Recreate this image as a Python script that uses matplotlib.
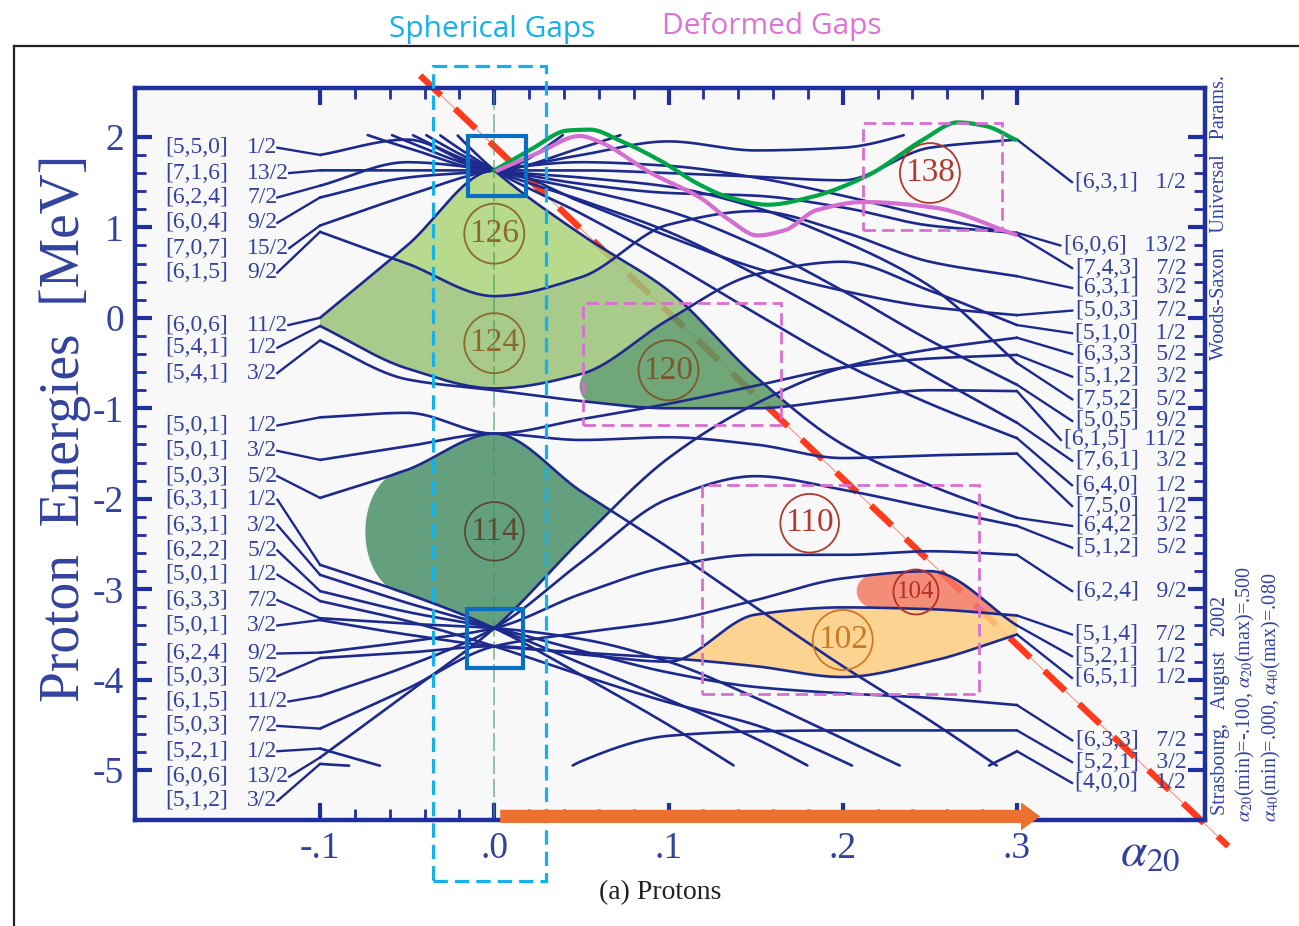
import numpy as np
import matplotlib.pyplot as plt
from matplotlib.patches import Rectangle, Polygon, FancyArrow
from matplotlib.lines import Line2D

plt.rcParams['mathtext.fontset'] = 'stix'
SERIF = 'Liberation Serif'
NAVY = '#1d2a8c'
LABEL = '#33429e'

# ---- single-particle levels: energy (MeV) at each alpha_20 ----
alpha_pts = [-0.10, -0.05, 0.00, 0.05, 0.10, 0.15, 0.20, 0.25, 0.30]

lvl_t1 = [1.80, 1.97, 1.63, 2.15, 2.70, 3.20, 3.50, 3.80, 4.00]
lvl_t2 = [1.63, 1.63, 1.63, 1.63, 1.60, 1.56, 1.52, 1.88, 1.97]
lvl_t3 = [1.46, 1.72, 1.63, 1.48, 1.38, 1.35, 1.22, 1.02, 0.94]
lvl_t4 = [1.33, 1.55, 1.63, 1.80, 1.95, 1.85, 1.88, 2.10, 2.40]
lvl_t5 = [1.02, 1.35, 1.63, 1.72, 1.68, 1.55, 1.35, 1.12, 0.92]
lvl_t6 = [0.95, 0.60, 0.24, 0.45, 1.03, 1.18, 0.95, 0.62, 0.46]
lvl_t7 = [0.00, 0.80, 1.63, 1.28, 0.90, 0.55, 0.30, 0.12, 0.03]
lvl_t8 = [3.30, 2.30, 1.63, 1.15, 0.62, 0.05, -0.50, -0.95, -1.33]
lvl_t9 = [2.90, 2.15, 1.63, 1.30, 0.95, 0.48, -0.05, -0.62, -1.16]
lvl_t10 = [2.60, 2.05, 1.63, 1.42, 1.18, 0.80, 0.30, -0.25, -0.74]
lvl_t11 = [2.40, 1.95, 1.63, 1.55, 1.45, 1.22, 0.85, 0.35, -0.50]
lvl_t12 = [2.20, 1.88, 1.63, 1.88, 2.20, 2.50, 2.80, 3.00, 3.20]
lvl_a2 = [3.60, 2.60, 1.63, 0.92, 0.30, -0.65, -1.40, -1.85, -2.21]
lvl_c1 = [-0.09, -0.56, -0.78, -0.62, -0.02, 0.48, 0.62, 0.30, -0.08]
lvl_c2 = [-0.25, -0.68, -0.80, -0.92, -1.00, -1.00, -0.90, -0.80, -0.81]
lvl_d1 = [-1.10, -1.05, -1.28, -1.12, -0.95, -0.75, -0.55, -0.45, -0.41]
lvl_d2 = [-1.57, -1.42, -1.28, -1.35, -1.32, -1.40, -1.55, -1.52, -1.50]
lvl_d3 = [-1.99, -1.68, -1.28, -1.92, -2.54, -3.20, -3.85, -4.45, -5.10]
lvl_i1 = [-2.73, -3.05, -3.43, -3.95, -4.50, -5.10, -5.70, -6.20, -6.60]
lvl_i2 = [-2.84, -3.15, -3.43, -3.82, -4.22, -4.65, -5.15, -5.60, -6.00]
lvl_i3 = [-3.02, -3.25, -3.43, -3.68, -3.92, -4.08, -4.15, -4.20, -4.28]
lvl_i4 = [-3.32, -3.38, -3.43, -3.55, -3.80, -4.20, -4.65, -5.10, -5.50]
lvl_i5 = [-3.70, -3.58, -3.43, -3.05, -2.75, -2.62, -2.62, -2.58, -2.62]
lvl_i6 = [-4.18, -3.85, -3.43, -2.70, -2.00, -1.75, -1.90, -2.10, -2.30]
lvl_i7 = [-4.86, -4.15, -3.43, -2.45, -1.55, -0.95, -0.55, -0.35, -0.22]
lvl_f1 = [-3.13, -3.35, -3.63, -3.95, -4.25, -4.50, -4.90, -5.40, -5.90]
lvl_f2 = [-3.34, -3.50, -3.63, -3.70, -3.76, -3.85, -3.97, -3.80, -3.50]
lvl_f3 = [-3.76, -3.70, -3.63, -3.72, -3.80, -3.28, -3.20, -3.22, -3.29]
lvl_f4 = [-4.54, -4.10, -3.63, -3.48, -3.35, -3.12, -2.88, -2.80, -3.40]
lvl_h1 = [-4.76, -5.05, -5.50, -6.00, -6.50, -7.00, -7.00, -7.00, -7.00]
lvl_h2 = [-4.93, -5.00, -5.40, -6.00, -6.50, -7.00, -7.00, -7.00, -7.00]
lvl_h3 = [-6.50, -6.00, -5.60, -4.90, -4.62, -4.57, -4.56, -4.56, -4.56]
lvl_h4 = [-7.00, -7.00, -7.00, -7.00, -7.00, -6.50, -6.00, -5.30, -4.79]

E_TOP, E_BOT = 2.02, -4.95

# asymptotic labels at the oblate (left) and prolate (right) ends
left_nilsson = ['[5,5,0]', '[7,1,6]', '[6,2,4]', '[6,0,4]', '[7,0,7]', '[6,1,5]',
                '[6,0,6]', '[5,4,1]', '[5,4,1]', '[5,0,1]', '[5,0,1]', '[5,0,3]',
                '[6,3,1]', '[6,3,1]', '[6,2,2]', '[5,0,1]', '[6,3,3]', '[5,0,1]',
                '[6,2,4]', '[5,0,3]', '[6,1,5]', '[5,0,3]', '[5,2,1]', '[6,0,6]', '[5,1,2]']
left_omega = ['1/2', '13/2', '7/2', '9/2', '15/2', '9/2', '11/2', '1/2', '3/2', '1/2',
              '3/2', '5/2', '1/2', '3/2', '5/2', '1/2', '7/2', '3/2', '9/2', '5/2',
              '11/2', '7/2', '1/2', '13/2', '3/2']
left_label_E = [1.88, 1.60, 1.33, 1.05, 0.77, 0.50, -0.08, -0.33, -0.61, -1.19, -1.47,
                -1.75, -2.01, -2.29, -2.57, -2.84, -3.12, -3.40, -3.71, -3.96, -4.24,
                -4.51, -4.79, -5.07, -5.34]

right_nilsson = ['[6,3,1]', '[6,0,6]', '[7,4,3]', '[6,3,1]', '[5,0,3]', '[5,1,0]',
                 '[6,3,3]', '[5,1,2]', '[7,5,2]', '[5,0,5]', '[6,1,5]', '[7,6,1]',
                 '[6,4,0]', '[7,5,0]', '[6,4,2]', '[5,1,2]', '[6,2,4]', '[5,1,4]',
                 '[5,2,1]', '[6,5,1]', '[6,3,3]', '[5,2,1]', '[4,0,0]']
right_omega = ['1/2', '13/2', '7/2', '3/2', '7/2', '1/2', '5/2', '3/2', '5/2', '9/2',
               '11/2', '3/2', '1/2', '1/2', '3/2', '5/2', '9/2', '7/2', '1/2', '1/2',
               '7/2', '3/2', '1/2']
right_label_E = [1.50, 0.80, 0.55, 0.33, 0.08, -0.17, -0.40, -0.65, -0.90, -1.14, -1.35,
                 -1.58, -1.85, -2.08, -2.30, -2.54, -3.02, -3.50, -3.74, -3.98, -4.67,
                 -4.91, -5.14]

# hand-drawn guide curves
green_alpha = [0.000, 0.021, 0.042, 0.055, 0.072, 0.095, 0.118, 0.135, 0.157, 0.181,
               0.214, 0.247, 0.266, 0.282, 0.299]
green_E = [1.63, 1.86, 2.07, 2.08, 1.96, 1.74, 1.47, 1.33, 1.25, 1.33, 1.57, 1.98,
           2.16, 2.12, 1.97]
pink_alpha = [0.002, 0.026, 0.049, 0.061, 0.090, 0.118, 0.135, 0.151, 0.167, 0.185,
              0.212, 0.252, 0.299]
pink_E = [1.63, 1.83, 2.01, 1.94, 1.60, 1.33, 1.08, 0.91, 0.97, 1.19, 1.28, 1.22, 0.92]

# gap labels: (text, alpha, E, color, size)
gap_labels = [('126', 0.000, 0.93, '#8c6a2e', 24), ('124', 0.000, -0.28, '#8c6a2e', 24),
              ('120', 0.100, -0.58, '#7a5a2a', 24), ('114', 0.000, -2.36, '#5b4a2e', 24),
              ('110', 0.181, -2.27, '#b03a2e', 24), ('104', 0.242, -3.03, '#b3302a', 18),
              ('102', 0.200, -3.56, '#cc7a22', 24), ('138', 0.250, 1.60, '#b03a2e', 24)]


def pchip(x, y, xf):
    x = np.asarray(x, float)
    y = np.asarray(y, float)
    h = np.diff(x)
    d = np.diff(y) / h
    m = np.empty_like(y)
    m[0], m[-1] = d[0], d[-1]
    for k in range(1, len(y) - 1):
        if d[k - 1] * d[k] <= 0:
            m[k] = 0.0
        else:
            m[k] = 2.0 / (1.0 / d[k - 1] + 1.0 / d[k])
    i = np.clip(np.searchsorted(x, xf) - 1, 0, len(h) - 1)
    t = (xf - x[i]) / h[i]
    return ((2 * t**3 - 3 * t**2 + 1) * y[i] + (t**3 - 2 * t**2 + t) * h[i] * m[i]
            + (-2 * t**3 + 3 * t**2) * y[i + 1] + (t**3 - t**2) * h[i] * m[i + 1])


levels = {'t1': lvl_t1, 't2': lvl_t2, 't3': lvl_t3, 't4': lvl_t4, 't5': lvl_t5,
          't6': lvl_t6, 't7': lvl_t7, 't8': lvl_t8, 't9': lvl_t9, 't10': lvl_t10,
          't11': lvl_t11, 't12': lvl_t12, 'a2': lvl_a2, 'c1': lvl_c1, 'c2': lvl_c2,
          'd1': lvl_d1, 'd2': lvl_d2, 'd3': lvl_d3, 'i1': lvl_i1, 'i2': lvl_i2,
          'i3': lvl_i3, 'i4': lvl_i4, 'i5': lvl_i5, 'i6': lvl_i6, 'i7': lvl_i7,
          'f1': lvl_f1, 'f2': lvl_f2, 'f3': lvl_f3, 'f4': lvl_f4, 'h1': lvl_h1,
          'h2': lvl_h2, 'h3': lvl_h3, 'h4': lvl_h4}

af = np.linspace(-0.1, 0.3, 1201)
curve = {k: pchip(alpha_pts, v, af) for k, v in levels.items()}

fig = plt.figure(figsize=(12.99, 9.26), dpi=100)
ax = fig.add_axes([135 / 1299, 106 / 926, 1070 / 1299, 732 / 926])
ax.set_facecolor('#f8f8f9')
ax.set_xlim(-0.2062, 0.4079)
ax.set_ylim(-5.55, 2.54)


# ---- shaded gaps: region between two level envelopes, optional round left end ----
def gap(lo, up, amin, amax, color, cap=0.0):
    idx = np.where((af >= amin) & (af <= amax) & (up > lo))[0]
    x, u, l = af[idx], up[idx], lo[idx]
    xs = list(x) + list(x[::-1])
    ys = list(u) + list(l[::-1])
    if cap > 0:
        th = np.linspace(1.5 * np.pi, 0.5 * np.pi, 50)
        xs += list(x[0] + cap * np.cos(th))
        ys += list((u[0] + l[0]) / 2 + (u[0] - l[0]) / 2 * np.sin(th))
    ax.add_patch(Polygon(np.column_stack([xs, ys]), closed=True, fc=color, lw=0,
                         alpha=0.85, zorder=1.5))


c = curve
gap(c['t6'], np.minimum(c['t7'], c['a2']), -0.1, 0.1, '#acd579')
gap(c['c1'], np.minimum.reduce([c['t6'], c['t7'], c['a2']]), -0.1, 0.13, '#9ac379')
gap(c['c2'], np.minimum(c['c1'], c['a2']), 0.056, 0.2, '#599862', cap=0.007)
low114 = np.maximum.reduce([c[k] for k in ['i1', 'i2', 'i3', 'i4', 'i5', 'i6', 'i7',
                                           'f1', 'f2', 'f3', 'f4']])
up114 = np.minimum.reduce([c['d1'], c['d2'], c['d3']])
gap(low114, up114, -0.05, 0.1, '#4a9169', cap=0.024)
gap(c['f2'], c['f3'], 0.09, 0.3, '#fecd7f')
gap(c['f3'], c['f4'], 0.218, 0.3, '#f47a61', cap=0.01)

# red diagonal guide (under the shading)
ax.plot([-0.0425, 0.4212], [2.677, -5.84], color='#ff3b1d', lw=4.6,
        dashes=(4.5, 3.0), clip_on=False, zorder=1.2)
ax.plot([-0.0425, 0.4212], [2.677, -5.84], color='#ff3b1d', lw=0.7, alpha=0.6,
        clip_on=False, zorder=1.2)

# spherical point
ax.axvline(0.0, color='#3d9a5c', lw=1.1, dashes=(12, 3), alpha=0.7, zorder=2.5)

# ---- level lines ----
for k, e in curve.items():
    e = e.copy()
    e[(e > E_TOP) | (e < E_BOT)] = np.nan
    ax.plot(af, e, color=NAVY, lw=1.9, zorder=3, solid_capstyle='round')

# ---- labels and connectors ----
fig.canvas.draw()
rend = fig.canvas.get_renderer()
inv = ax.transData.inverted()

left_ends = sorted([v[0] for v in levels.values() if E_BOT <= v[0] <= E_TOP],
                   reverse=True)
for name, om, ye, e0 in zip(left_nilsson, left_omega, left_label_E, left_ends):
    ax.text(-0.1888, ye, name, fontsize=17, family=SERIF, color=LABEL,
            ha='left', va='center')
    t = ax.text(-0.1418, ye, om, fontsize=17, family=SERIF, color=LABEL,
                ha='left', va='center')
    x1 = t.get_window_extent(rend).transformed(inv).x1
    ax.plot([x1, -0.1], [ye, e0], color=NAVY, lw=1.7, zorder=3)

right_ends = sorted([v[-1] for v in levels.values() if E_BOT <= v[-1] <= E_TOP],
                    reverse=True)
for name, om, ye, e1 in zip(right_nilsson, right_omega, right_label_E, right_ends):
    t = ax.text(0.3971, ye, name + '   ' + om, fontsize=17, family=SERIF,
                color=LABEL, ha='right', va='center')
    x0 = t.get_window_extent(rend).transformed(inv).x0
    ax.plot([0.3, x0 - 0.002], [e1, ye], color=NAVY, lw=1.7, zorder=3)

for txt, xa, ya, col, fs in gap_labels:
    ax.text(xa, ya, txt, fontsize=fs, family=SERIF, color=col, ha='center',
            va='center', zorder=6,
            bbox=dict(boxstyle='circle,pad=0.15', fc='none', ec=col, lw=1.3))

# ---- guide curves ----
ga = np.linspace(green_alpha[0], green_alpha[-1], 300)
ax.plot(ga, pchip(green_alpha, green_E, ga), color='#00a548', lw=3, zorder=7,
        clip_on=False)
pa = np.linspace(pink_alpha[0], pink_alpha[-1], 300)
ax.plot(pa, pchip(pink_alpha, pink_E, pa), color='#d46fd0', lw=3, zorder=7)

# ---- boxes ----
ax.add_patch(Rectangle((-0.035, -6.22), 0.0648, 9.0, fill=False, ec='#14b1ec',
                       lw=2.3, ls=(0, (4.5, 2.2)), clip_on=False, zorder=8))
for (x0, y0, x1, y1) in [(0.2118, 0.973, 0.2915, 2.157), (0.0511, -1.184, 0.1647, 0.166),
                         (0.1194, -4.159, 0.2783, -1.847)]:
    ax.add_patch(Rectangle((x0, y0), x1 - x0, y1 - y0, fill=False, ec='#d870d2',
                           lw=2.0, ls=(0, (4.5, 2.2)), zorder=8))
for (x0, y0, x1, y1) in [(-0.0149, 1.35, 0.0184, 2.01), (-0.0155, -3.87, 0.0166, -3.22)]:
    ax.add_patch(Rectangle((x0, y0), x1 - x0, y1 - y0, fill=False, ec='#0a6fc2',
                           lw=3.0, zorder=8))

ax.add_patch(FancyArrow(0.0034, -5.51, 0.3133 - 0.0034, 0.0, width=0.145,
                        head_width=0.31, head_length=0.011, length_includes_head=True,
                        color='#ec7130', lw=0, clip_on=False, zorder=9))

# ---- axes styling ----
for s in ax.spines.values():
    s.set_color('#1f2f9f')
    s.set_linewidth(3.2)
ax.set_xticks([-0.1, 0.0, 0.1, 0.2, 0.3])
ax.set_xticklabels(['-.1', '.0', '.1', '.2', '.3'])
ax.set_xticks(np.arange(-0.1, 0.3001, 0.02), minor=True)
ax.set_yticks(np.arange(-5, 3))
ax.set_yticklabels(['-5', '-4', '-3', '-2', '-1', '0', '1', '2'])
ax.set_yticks(np.arange(-5, 2.001, 0.2), minor=True)
ax.tick_params(which='both', direction='in', color='#1f2f9f', top=True, right=True,
               labelcolor=LABEL)
ax.tick_params(which='major', length=12, width=3, labelsize=27, pad=8)
ax.tick_params(which='minor', length=8, width=2)
for lab in ax.get_xticklabels() + ax.get_yticklabels():
    lab.set_family(SERIF)

fig.text(65 / 1299, 1 - 428 / 926, 'Proton  Energies  [MeV]', rotation=90,
         fontsize=40, family=SERIF, color=LABEL, ha='center', va='center')
fig.text(1150 / 1299, 1 - 852 / 926, r'$\alpha_{20}$', fontsize=34, color=LABEL,
         ha='center', va='center')
fig.text(660 / 1299, 1 - 893 / 926, '(a) Protons', fontsize=20, family=SERIF,
         color='#222222', ha='center', va='center')
fig.text(1219 / 1299, 1 - 75 / 926, 'Woods-Saxon   Universal   Params.', rotation=90,
         fontsize=14.5, family=SERIF, color=LABEL, ha='center', va='top')
fig.text(1220 / 1299, 1 - 815 / 926, 'Strasbourg,   August   2002', rotation=90,
         fontsize=14.5, family=SERIF, color=LABEL, ha='center', va='bottom')
fig.text(1245 / 1299, 1 - 822 / 926,
         r'$\alpha_{20}$(min)=-.100, $\alpha_{20}$(max)=.500', rotation=90,
         fontsize=14.5, family=SERIF, color=LABEL, ha='center', va='bottom')
fig.text(1271 / 1299, 1 - 822 / 926,
         r'$\alpha_{40}$(min)=.000, $\alpha_{40}$(max)=.080', rotation=90,
         fontsize=14.5, family=SERIF, color=LABEL, ha='center', va='bottom')

fig.text(492 / 1299, 1 - 37 / 926, 'Spherical Gaps', fontsize=21.5, family='Open Sans',
         color='#14b1ec', ha='center', va='baseline')
fig.text(772 / 1299, 1 - 34 / 926, 'Deformed Gaps', fontsize=21.5, family='Open Sans',
         color='#de73d6', ha='center', va='baseline')

# outer frame
fig.add_artist(Line2D([14 / 1299, 1.0], [1 - 46 / 926, 1 - 46 / 926], color='#222222',
                      lw=1.6, transform=fig.transFigure))
fig.add_artist(Line2D([14 / 1299, 14 / 1299], [0.0, 1 - 46 / 926], color='#222222',
                      lw=1.6, transform=fig.transFigure))

fig.savefig('out.png', dpi=100, facecolor='white')
